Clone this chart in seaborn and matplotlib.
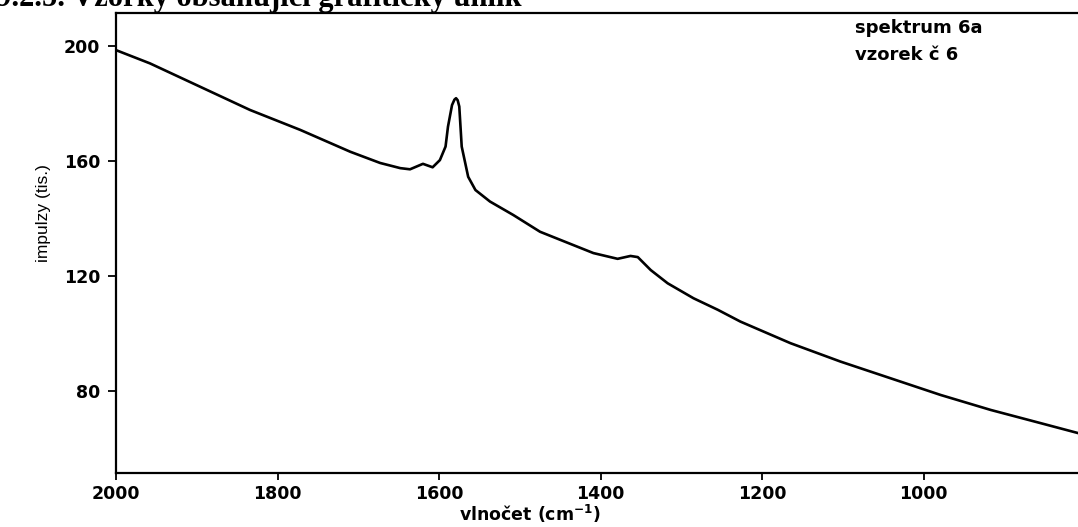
import matplotlib
matplotlib.use("Agg")
import matplotlib.pyplot as plt
import seaborn as sns
import pandas as pd

# Data
wavenumber = [2000, 1958, 1896, 1834, 1772, 1710, 1673, 1648, 1636, 1620,
              1608, 1599, 1592, 1589, 1584, 1581, 1579, 1577, 1575, 1572,
              1564, 1555, 1537, 1508, 1475, 1434, 1409, 1379, 1363, 1354,
              1338, 1317, 1285, 1255, 1227, 1165, 1103, 1041, 979, 917,
              855, 808]
intensity = [198.4, 193.8, 185.7, 177.6, 170.7, 163.1, 159.2, 157.4, 157.0, 158.9,
             157.7, 160.2, 164.9, 171.8, 179.3, 181.2, 181.7, 181.0, 178.8, 164.9,
             154.4, 149.8, 145.8, 141.1, 135.3, 130.7, 127.9, 125.9, 126.9, 126.5,
             122.0, 117.4, 112.2, 108.2, 104.1, 96.6, 90.2, 84.4, 78.6, 73.4,
             68.8, 65.3]
x_ticks = [2000, 1800, 1600, 1400, 1200, 1000]
y_ticks = [80, 120, 160, 200]
title_text = "9.2.5. Vzorky obsahující grafitický uhlík"
note_lines = ["spektrum 6a", "vzorek č 6"]
x_label = "vlnočet (cm$^{\\mathbf{-1}}$)"
y_label = "impulzy (tis.)"

df = pd.DataFrame({"x": wavenumber, "y": intensity})

sns.set_style("ticks")
plt.rcParams["font.family"] = ["DejaVu Sans"]
plt.rcParams["text.color"] = "black"
plt.rcParams["axes.labelcolor"] = "black"
plt.rcParams["xtick.color"] = "black"
plt.rcParams["ytick.color"] = "black"
plt.rcParams["mathtext.fontset"] = "dejavusans"

W, H = 1078, 527
fig = plt.figure(figsize=(W / 100, H / 100), dpi=100)
left, right = 116 / W, 1.0
bottom, top = (H - 473) / H, (H - 12.7) / H
ax = fig.add_axes([left, bottom, right - left, top - bottom])

sns.lineplot(data=df, x="x", y="y", sort=False, estimator=None,
             color="black", linewidth=1.9, ax=ax)

ax.set_xlim(2000, 809)
ax.set_ylim(51.5, 211.4)
ax.set_xticks(x_ticks)
ax.set_yticks(y_ticks)
ax.set_xticklabels([str(t) for t in x_ticks], fontsize=12.5, fontweight="bold")
ax.set_yticklabels([str(t) for t in y_ticks], fontsize=12.5, fontweight="bold")
ax.tick_params(axis="x", direction="out", length=5, width=1.3, pad=3.5,
               colors="black", labelcolor="black")
ax.tick_params(axis="y", direction="out", length=6, width=1.3, pad=5.5,
               colors="black", labelcolor="black")

for side in ["left", "bottom", "top"]:
    ax.spines[side].set_linewidth(1.6)
    ax.spines[side].set_color("black")
ax.spines["right"].set_visible(False)

ax.set_xlabel(x_label, fontsize=12.5, fontweight="bold", color="black")
ax.xaxis.set_label_coords(0.43, -0.064)
ax.set_ylabel(y_label, fontsize=12.5, color="black",
              family=["Liberation Sans Narrow", "Liberation Sans", "DejaVu Sans"])
ax.yaxis.set_label_coords(-0.068, 0.564)

# Annotation in upper right
xa = (855 - 116) / (W - 116)
ax.text(xa, (473 - 33) / 460.3, note_lines[0], transform=ax.transAxes,
        fontsize=13, fontweight="bold", color="black", ha="left", va="baseline")
ax.text(xa, (473 - 60) / 460.3, note_lines[1], transform=ax.transAxes,
        fontsize=13, fontweight="bold", color="black", ha="left", va="baseline")

# Title cut off at the top of the image, as in the reference
fig.text(-4 / W, 1 - 6 / H, title_text, fontsize=22, fontweight="bold",
         color="black", family=["Liberation Serif", "DejaVu Serif"],
         ha="left", va="baseline")

fig.savefig("out.png", dpi=100)
